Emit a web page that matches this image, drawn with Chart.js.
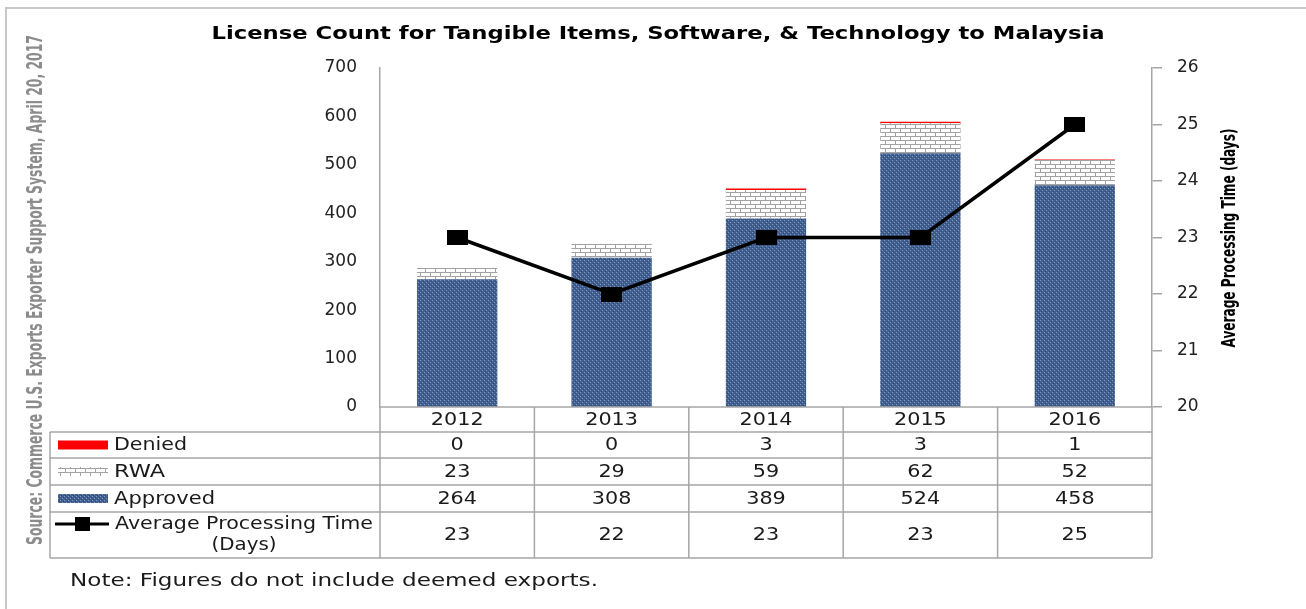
<!DOCTYPE html>
<html>
<head>
<meta charset="utf-8">
<title>License Count - Malaysia</title>
<script src="https://cdn.jsdelivr.net/npm/chart.js@4.4.1/dist/chart.umd.min.js"></script>
<style>
html, body { margin: 0; padding: 0; background: #fff; }
#chart { display: block; }
</style>
</head>
<body>
<canvas id="chart" width="1306" height="609"></canvas>
<script>
const YEARS = ["2012", "2013", "2014", "2015", "2016"];
const DENIED = [0, 0, 3, 3, 1];
const RWA = [23, 29, 59, 62, 52];
const APPROVED = [264, 308, 389, 524, 458];
const AVG_DAYS = [23, 22, 23, 23, 25];

const TITLE = "License Count for Tangible Items, Software, & Technology to Malaysia";
const SOURCE = "Source: Commerce U.S. Exports Exporter Support System, April 20, 2017";
const NOTE = "Note: Figures do not include deemed exports.";
const Y2_TITLE = "Average Processing Time (days)";

const FONT = "'DejaVu Sans', sans-serif";
const NARROW = "'Liberation Sans Narrow', 'DejaVu Sans Condensed', sans-serif";
const LINE_GRAY = "#a6a6a6";
let myChart = null;



////////////////////////////////////////////////////////////////////////////////
// fills
////////////////////////////////////////////////////////////////////////////////
const makeCanvas = (w, h)=>{
    const c = document.createElement("canvas");
    c.width = w;
    c.height = h;
    return c;
};

const brickPattern = ()=>{
    const c = makeCanvas(10, 8);
    const g = c.getContext("2d");
    g.fillStyle = "#ffffff";
    g.fillRect(0, 0, 10, 8);
    g.fillStyle = "#a2a2a2";
    g.fillRect(0, 0, 10, 1);
    g.fillRect(0, 4, 10, 1);
    g.fillRect(0, 0, 1, 4);
    g.fillRect(5, 4, 1, 4);
    return g.createPattern(c, "repeat");
};

const dotPattern = ()=>{
    const c = makeCanvas(4, 4);
    const g = c.getContext("2d");
    g.fillStyle = "#415f8f";
    g.fillRect(0, 0, 4, 4);
    g.fillStyle = "#8299bd";
    g.fillRect(0, 0, 1, 1);
    g.fillRect(2, 2, 1, 1);
    g.fillStyle = "#314b78";
    g.fillRect(1, 3, 1, 1);
    g.fillRect(3, 1, 1, 1);
    return g.createPattern(c, "repeat");
};

// square marker, a bit wider than tall like the original
const markerImage = ()=>{
    const c = makeCanvas(21, 15);
    const g = c.getContext("2d");
    g.fillStyle = "#000";
    g.fillRect(0, 0, 21, 15);
    return c;
};

const BRICK = brickPattern();
const DOTS = dotPattern();
const MARKER = markerImage();



////////////////////////////////////////////////////////////////////////////////
// text helper (stretched horizontally to match the original look)
////////////////////////////////////////////////////////////////////////////////
const drawText = (ctx, text, x, y, opts)=>{
    const o = Object.assign({ font: "17px " + FONT, color: "#1a1a1a", align: "center", sx: 1.22, rot: 0, width: null }, opts);
    ctx.save();
    ctx.font = o.font;
    ctx.fillStyle = o.color;
    ctx.textAlign = o.align;
    ctx.textBaseline = "middle";
    let sx = o.sx;
    if(o.width){
        sx = o.width / ctx.measureText(text).width;
    }
    ctx.translate(x, y);
    ctx.rotate(o.rot);
    ctx.scale(sx, 1);
    ctx.fillText(text, 0, 0);
    ctx.restore();
};



////////////////////////////////////////////////////////////////////////////////
// data table + decorations
////////////////////////////////////////////////////////////////////////////////
const ROW_Y = [407, 432, 458, 485, 512, 558];
const TABLE_LEFT = 50;

const tablePlugin = {
    id: "tablePlugin",
    afterDraw: (chart)=>{
        const ctx = chart.ctx;
        const area = chart.chartArea;
        const xs = chart.scales.x;
        const colW = (area.right - area.left) / YEARS.length;

        // outer frame
        ctx.save();
        ctx.strokeStyle = "#c8c8c8";
        ctx.lineWidth = 2;
        ctx.beginPath();
        ctx.moveTo(6, 609);
        ctx.lineTo(6, 8);
        ctx.lineTo(1306, 8);
        ctx.stroke();
        ctx.restore();

        // grid of the table
        ctx.save();
        ctx.strokeStyle = LINE_GRAY;
        ctx.lineWidth = 1.5;
        ctx.beginPath();
        ctx.moveTo(area.left, ROW_Y[0]);
        ctx.lineTo(area.right, ROW_Y[0]);
        for(let r = 1; r < ROW_Y.length; r++){
            ctx.moveTo(TABLE_LEFT, ROW_Y[r]);
            ctx.lineTo(area.right, ROW_Y[r]);
        }
        for(let i = 0; i <= YEARS.length; i++){
            const x = area.left + i * colW;
            ctx.moveTo(x, ROW_Y[0]);
            ctx.lineTo(x, ROW_Y[ROW_Y.length - 1]);
        }
        ctx.moveTo(TABLE_LEFT, ROW_Y[1]);
        ctx.lineTo(TABLE_LEFT, ROW_Y[ROW_Y.length - 1]);
        ctx.stroke();
        ctx.restore();

        // header + values
        const rows = [DENIED, RWA, APPROVED, AVG_DAYS];
        YEARS.forEach((yr, i)=>{
            const cx = xs.getPixelForValue(i);
            drawText(ctx, yr, cx, (ROW_Y[0] + ROW_Y[1]) / 2 + 1);
            rows.forEach((vals, r)=>{
                drawText(ctx, String(vals[i]), cx, (ROW_Y[r + 1] + ROW_Y[r + 2]) / 2 + 1);
            });
        });

        // legend keys in first column
        const keyX = 58, keyW = 50, keyH = 9;
        const mid = (r)=> (ROW_Y[r] + ROW_Y[r + 1]) / 2;
        ctx.save();
        ctx.fillStyle = "#ff0000";
        ctx.fillRect(keyX, mid(1) - keyH / 2, keyW, keyH);
        ctx.fillStyle = BRICK;
        ctx.fillRect(keyX, mid(2) - keyH / 2, keyW, keyH);
        ctx.fillStyle = DOTS;
        ctx.fillRect(keyX, mid(3) - keyH / 2, keyW, keyH);
        ctx.strokeStyle = "#000";
        ctx.lineWidth = 3;
        ctx.beginPath();
        ctx.moveTo(55, 524);
        ctx.lineTo(109, 524);
        ctx.stroke();
        ctx.fillStyle = "#000";
        ctx.fillRect(75, 517, 15, 14);
        ctx.restore();

        drawText(ctx, "Denied", 114, mid(1) + 1, { align: "left", width: 73 });
        drawText(ctx, "RWA", 114, mid(2) + 1, { align: "left", width: 51 });
        drawText(ctx, "Approved", 114, mid(3) + 1, { align: "left", width: 101 });
        drawText(ctx, "Average Processing Time", 115, 525, { align: "left", width: 258 });
        drawText(ctx, "(Days)", 244, 546, { width: 65 });

        // titles and notes
        drawText(ctx, TITLE, 658, 35, { font: "bold 17px " + FONT, color: "#000", width: 893 });
        drawText(ctx, NOTE, 70, 582, { align: "left", width: 528 });
        drawText(ctx, SOURCE, 37, 290, { font: "bold 21px " + NARROW, color: "#8c8c8c", rot: -Math.PI / 2, width: 510 });
        drawText(ctx, Y2_TITLE, 1230, 238, { font: "bold 20px " + NARROW, color: "#000", rot: -Math.PI / 2, width: 219 });
    },
};



////////////////////////////////////////////////////////////////////////////////
// chart
////////////////////////////////////////////////////////////////////////////////
const createChart = ()=>{
    const canvas = document.querySelector("#chart");
    myChart = new Chart(canvas, {
        data: {
            labels: YEARS,
            datasets: [
                {
                    type: "line", label: "Average Processing Time (Days)", data: AVG_DAYS, yAxisID: "y1",
                    borderColor: "#000", borderWidth: 3.5, pointStyle: MARKER, tension: 0, order: 0,
                },
                { type: "bar", label: "Approved", data: APPROVED, backgroundColor: DOTS, order: 1 },
                { type: "bar", label: "RWA", data: RWA, backgroundColor: BRICK, order: 1 },
                { type: "bar", label: "Denied", data: DENIED, backgroundColor: "#ff0000", order: 1 },
            ],
        },
        options: {
            responsive: false,
            animation: false,
            maintainAspectRatio: false,
            layout: { padding: { top: 68, bottom: 202, left: 0, right: 0 } },
            datasets: { bar: { barPercentage: 0.52, categoryPercentage: 1 } },
            plugins: {
                legend: { display: false },
                tooltip: { enabled: false },
                title: { display: false },
            },
            scales: {
                x: { stacked: true, display: false },
                y: {
                    stacked: true, position: "left", min: 0, max: 700,
                    grid: { display: false, drawTicks: false },
                    border: { display: true, color: LINE_GRAY, width: 1.5 },
                    ticks: { stepSize: 100, padding: 23, color: "#222", font: { family: FONT, size: 17 } },
                    afterFit: (scale)=>{ scale.width = 380; },
                },
                y1: {
                    position: "right", min: 20, max: 26,
                    grid: { drawOnChartArea: false, drawTicks: true, tickLength: 10, color: LINE_GRAY, lineWidth: 1.5 },
                    border: { display: true, color: LINE_GRAY, width: 1.5 },
                    ticks: { stepSize: 1, padding: 15, color: "#222", font: { family: FONT, size: 17 } },
                    afterFit: (scale)=>{ scale.width = 154; },
                },
            },
        },
        plugins: [tablePlugin],
    });
};



////////////////////////////////////////////////////////////////////////////////
// Activate
////////////////////////////////////////////////////////////////////////////////
createChart();
</script>
</body>
</html>
